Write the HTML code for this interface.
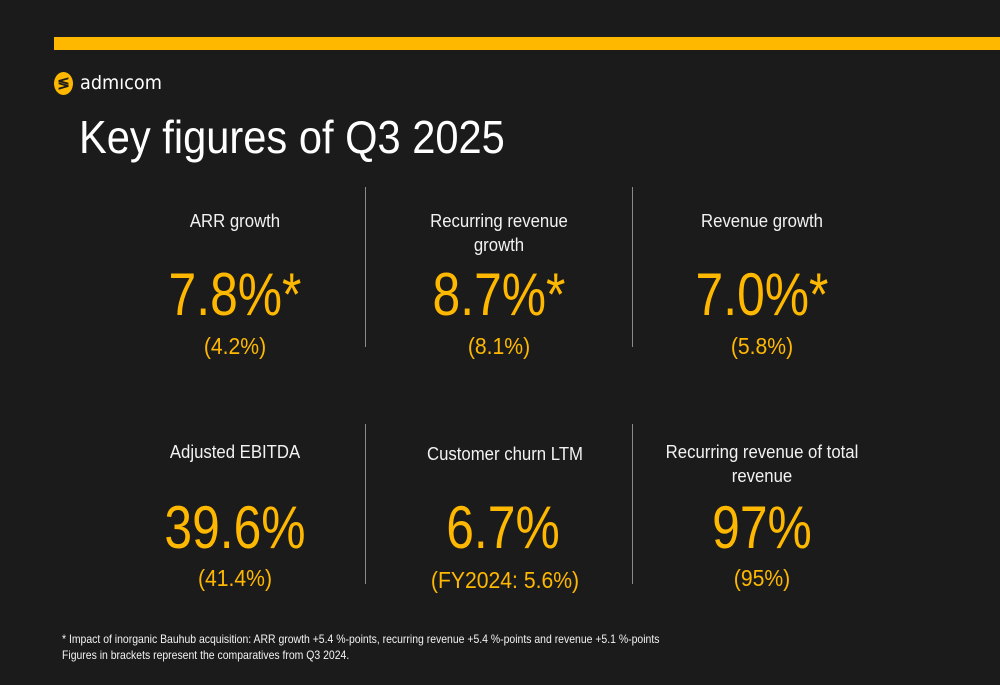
<!DOCTYPE html>
<html><head><meta charset="utf-8"><style>
body{margin:0;width:1000px;height:685px;background:#1b1b1b;overflow:hidden;font-family:"Liberation Sans",Arial,sans-serif;color:#fff;position:relative}
.a{position:absolute}
.lbl{position:absolute;width:240px;text-align:center;font-size:18px;line-height:24px;color:#f2f2f2;transform:translateX(-50%) scaleX(0.93)}
.big{position:absolute;width:300px;text-align:center;font-size:60px;line-height:60px;color:#FFB800;transform:translateX(-50%) scaleX(0.83)}
.sub{position:absolute;width:300px;text-align:center;font-size:23px;line-height:26px;color:#FFB800;transform:translateX(-50%) scaleX(0.92)}
.div{position:absolute;width:1px;background:#8a8a8a}
</style></head><body>
<div class="a" style="left:54px;top:37px;width:946px;height:13px;background:#FFB800"></div>
<div class="a" style="left:54px;top:71px;height:24px;display:flex;align-items:center">
<div style="width:19px;height:23px;border-radius:50%;background:#FFB800;color:#1b1b1b;font-size:15px;font-weight:bold;text-align:center;line-height:23px">≶</div>
<span style="margin-left:7px;font-family:'DejaVu Sans',sans-serif;font-size:19px;color:#fff;display:inline-block;transform:scaleX(0.93);transform-origin:left">admıcom</span></div>
<div class="a" style="left:79px;top:110px;font-size:46px;line-height:54px;color:#fff;transform:scaleX(0.905);transform-origin:left;white-space:nowrap">Key figures of Q3 2025</div>

<div class="div" style="left:365px;top:187px;height:160px"></div>
<div class="div" style="left:632px;top:187px;height:160px"></div>
<div class="div" style="left:365px;top:424px;height:160px"></div>
<div class="div" style="left:632px;top:424px;height:160px"></div>

<div class="lbl" style="left:235px;top:209px">ARR growth</div>
<div class="big" style="left:235px;top:265px">7.8%*</div>
<div class="sub" style="left:235px;top:333px">(4.2%)</div>

<div class="lbl" style="left:499px;top:209px;width:180px">Recurring revenue growth</div>
<div class="big" style="left:499px;top:265px">8.7%*</div>
<div class="sub" style="left:499px;top:333px">(8.1%)</div>

<div class="lbl" style="left:762px;top:209px">Revenue growth</div>
<div class="big" style="left:762px;top:265px">7.0%*</div>
<div class="sub" style="left:762px;top:333px">(5.8%)</div>

<div class="lbl" style="left:235px;top:440px">Adjusted EBITDA</div>
<div class="big" style="left:235px;top:498px">39.6%</div>
<div class="sub" style="left:235px;top:565px">(41.4%)</div>

<div class="lbl" style="left:505px;top:442px">Customer churn LTM</div>
<div class="big" style="left:503px;top:498px">6.7%</div>
<div class="sub" style="left:505px;top:567px">(FY2024: 5.6%)</div>

<div class="lbl" style="left:762px;top:440px;width:215px">Recurring revenue of total revenue</div>
<div class="big" style="left:762px;top:498px">97%</div>
<div class="sub" style="left:762px;top:565px">(95%)</div>

<div class="a" style="left:62px;top:631px;font-size:12px;line-height:16px;color:#f2f2f2;transform:scaleX(0.87);transform-origin:left;white-space:nowrap">* Impact of inorganic Bauhub acquisition: ARR growth +5.4 %-points, recurring revenue +5.4 %-points and revenue +5.1 %-points<br>Figures in brackets represent the comparatives from Q3 2024.</div>
</body></html>
